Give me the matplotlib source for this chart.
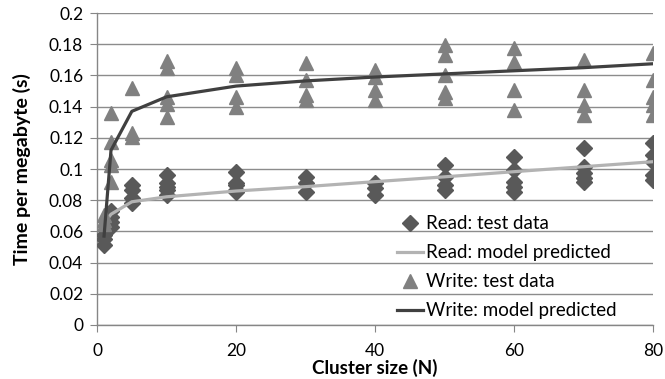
import numpy as np
import matplotlib
matplotlib.use("Agg")
import matplotlib.pyplot as plt

plt.rcParams['font.family'] = ['Lato', 'DejaVu Sans']

# cluster sizes measured
cluster_sizes = [1, 2, 5, 10, 20, 30, 40, 50, 60, 70, 80]

# read: measured time per megabyte at each cluster size
read_test = [
    [0.051, 0.055, 0.058],
    [0.063, 0.066, 0.069, 0.073],
    [0.078, 0.0814, 0.0865, 0.0897],
    [0.0833, 0.0865, 0.0887, 0.0908, 0.0962],
    [0.0855, 0.0865, 0.0897, 0.0908, 0.098],
    [0.0855, 0.0908, 0.095],
    [0.0833, 0.0876, 0.0908],
    [0.0865, 0.0897, 0.095, 0.1026],
    [0.0855, 0.0887, 0.0919, 0.0994, 0.108],
    [0.092, 0.094, 0.0972, 0.1015, 0.1132],
    [0.093, 0.0962, 0.1047, 0.109, 0.1165],
]
read_model = [0.065, 0.071, 0.079, 0.0822, 0.0859, 0.0887, 0.0919, 0.095, 0.0983, 0.1015, 0.1047]

# write: measured time per megabyte at each cluster size
write_test = [
    [0.065, 0.0675, 0.0705],
    [0.092, 0.1026, 0.1058, 0.1175, 0.1357],
    [0.1207, 0.123, 0.152],
    [0.1335, 0.142, 0.1463, 0.1645, 0.169],
    [0.140, 0.146, 0.160, 0.1645],
    [0.1442, 0.1474, 0.157, 0.1677],
    [0.1442, 0.1506, 0.159, 0.1635],
    [0.1453, 0.1496, 0.160, 0.173, 0.1795],
    [0.1378, 0.1506, 0.1688, 0.1773],
    [0.1346, 0.141, 0.1506, 0.1699],
    [0.1346, 0.141, 0.1463, 0.157, 0.1742],
]
write_model = [0.057, 0.112, 0.137, 0.1463, 0.1532, 0.1565, 0.159, 0.161, 0.163, 0.165, 0.1675]


def flatten(groups):
    xs, ys = [], []
    for n, vals in zip(cluster_sizes, groups):
        xs += [n] * len(vals)
        ys += vals
    return xs, ys


fig = plt.figure(figsize=(6.65, 3.79), dpi=100)
ax = fig.add_axes([0.146, 0.1425, 0.836, 0.823])

rx, ry = flatten(read_test)
wx, wy = flatten(write_test)

ax.plot(rx, ry, linestyle='none', marker='D', markersize=8, color='#595959',
        label='Read: test data', zorder=3)
ax.plot(cluster_sizes, read_model, color='#b3b3b3', linewidth=2.3,
        label='Read: model predicted', zorder=4)
ax.plot(wx, wy, linestyle='none', marker='^', markersize=10, color='#808080',
        label='Write: test data', zorder=5)
ax.plot(cluster_sizes, write_model, color='#404040', linewidth=2.3,
        label='Write: model predicted', zorder=6)

ax.set_xlim(0, 80)
ax.set_ylim(0, 0.2)
ax.set_xticks([0, 20, 40, 60, 80])
ax.set_yticks(np.arange(0, 0.201, 0.02))
ax.set_yticklabels(['0', '0.02', '0.04', '0.06', '0.08', '0.1', '0.12',
                    '0.14', '0.16', '0.18', '0.2'])
ax.yaxis.grid(True, color='#8c8c8c', linewidth=1)
ax.set_axisbelow(True)

for side in ['top', 'right']:
    ax.spines[side].set_visible(False)
for side in ['left', 'bottom']:
    ax.spines[side].set_color('#868686')
    ax.spines[side].set_linewidth(1)
ax.tick_params(axis='both', colors='#868686', length=5, labelsize=12.5,
               labelcolor='black', direction='out', pad=5)
ax.tick_params(axis='x', pad=8)

ax.set_xlabel('Cluster size (N)', fontsize=13.5, fontweight='bold', labelpad=0)
ax.set_ylabel('Time per megabyte (s)', fontsize=14, fontweight='bold', labelpad=13)

ax.legend(loc='center left', bbox_to_anchor=(0.515, 0.185), frameon=False,
          fontsize=13.5, handlelength=1.4, handletextpad=0.15,
          labelspacing=0.64, borderpad=0.2)

fig.savefig('out.png', dpi=100)
